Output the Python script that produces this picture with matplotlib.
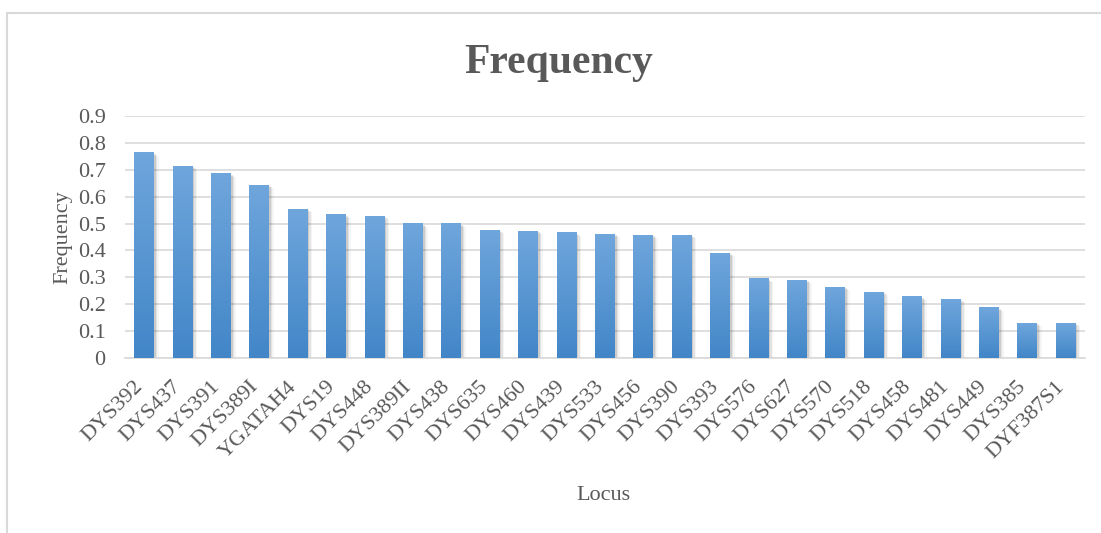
import matplotlib.pyplot as plt
import numpy as np
from matplotlib.patches import Rectangle
from matplotlib.colors import LinearSegmentedColormap
from matplotlib.transforms import ScaledTranslation

# Data:
loci = ['DYS392', 'DYS437', 'DYS391', 'DYS389I', 'YGATAH4', 'DYS19',
        'DYS448', 'DYS389II', 'DYS438', 'DYS635', 'DYS460', 'DYS439',
        'DYS533', 'DYS456', 'DYS390', 'DYS393', 'DYS576', 'DYS627',
        'DYS570', 'DYS518', 'DYS458', 'DYS481', 'DYS449', 'DYS385',
        'DYF387S1']
frequency = [0.763, 0.714, 0.685, 0.643, 0.554, 0.532, 0.528, 0.499,
             0.499, 0.476, 0.472, 0.465, 0.461, 0.457, 0.457, 0.390,
             0.295, 0.290, 0.264, 0.245, 0.227, 0.219, 0.186, 0.130,
             0.130]
y_ticks = [0, 0.1, 0.2, 0.3, 0.4, 0.5, 0.6, 0.7, 0.8, 0.9]
y_tick_labels = ['0', '0.1', '0.2', '0.3', '0.4', '0.5', '0.6', '0.7',
                 '0.8', '0.9']

plt.rcParams['font.family'] = ['Liberation Serif', 'DejaVu Serif']
txt_col = '#595959'
grid_col = '#d9d9d9'
bar_w = 0.52

fig = plt.figure(figsize=(11.01, 5.33), dpi=100)
# Outer chart frame:
fig.patches.append(Rectangle((7/1101, -0.1), 1.2, 1 - 13/533 + 0.1,
                             transform=fig.transFigure, fill=False,
                             edgecolor='#d9d9d9', lw=1.5))

ax = fig.add_axes([125/1101, 1 - 358/533, 960/1101, 242/533])
x = np.arange(len(loci))

# Gradient bars (lighter at top) with soft shadow:
cmap = LinearSegmentedColormap.from_list('bar', ['#4286c8', '#6fa6dc'])
grad = np.linspace(0, 1, 256).reshape(-1, 1)
for xi, v in zip(x, frequency):
    for k, a in enumerate([0.10, 0.07, 0.04]):
        ax.add_patch(Rectangle((xi - bar_w/2 + 0.02*(k+1), 0),
                               bar_w + 0.02*(k+1), v - 0.004*(k+1),
                               facecolor='#000000', alpha=a, lw=0,
                               zorder=2))
    ax.imshow(grad, cmap=cmap, aspect='auto', origin='lower',
              extent=(xi - bar_w/2, xi + bar_w/2, 0, v), zorder=3)

ax.set_xlim(-0.5, len(loci) - 0.5)
ax.set_ylim(0, 0.9)
ax.set_yticks(y_ticks)
ax.set_yticklabels(y_tick_labels)
ax.set_xticks(x)
ax.set_xticklabels(loci, rotation=45, ha='right', rotation_mode='anchor')
ax.tick_params(axis='both', length=0, labelsize=16, colors=txt_col)
ax.tick_params(axis='y', pad=14)
ax.tick_params(axis='x', pad=6)
# Shift the rotated labels down-left, as in the reference
shift = ScaledTranslation(-0.11, -0.11, fig.dpi_scale_trans)
for lbl in ax.get_xticklabels():
    lbl.set_transform(lbl.get_transform() + shift)
ax.yaxis.grid(True, color=grid_col, lw=1.2, zorder=0)
ax.set_axisbelow(True)
for s in ['top', 'right', 'left']:
    ax.spines[s].set_visible(False)
ax.spines['bottom'].set_color(grid_col)
ax.spines['bottom'].set_linewidth(1.2)

ax.set_ylabel('Frequency', fontsize=16, color=txt_col, labelpad=4)
fig.text(603/1101, 1 - 495/533, 'Locus', fontsize=16, color=txt_col,
         ha='center', va='center')
fig.text(559/1101, 1 - 63/533, 'Frequency', fontsize=30, color=txt_col,
         fontweight='bold', ha='center', va='center')

fig.savefig('out.png', dpi=100)
